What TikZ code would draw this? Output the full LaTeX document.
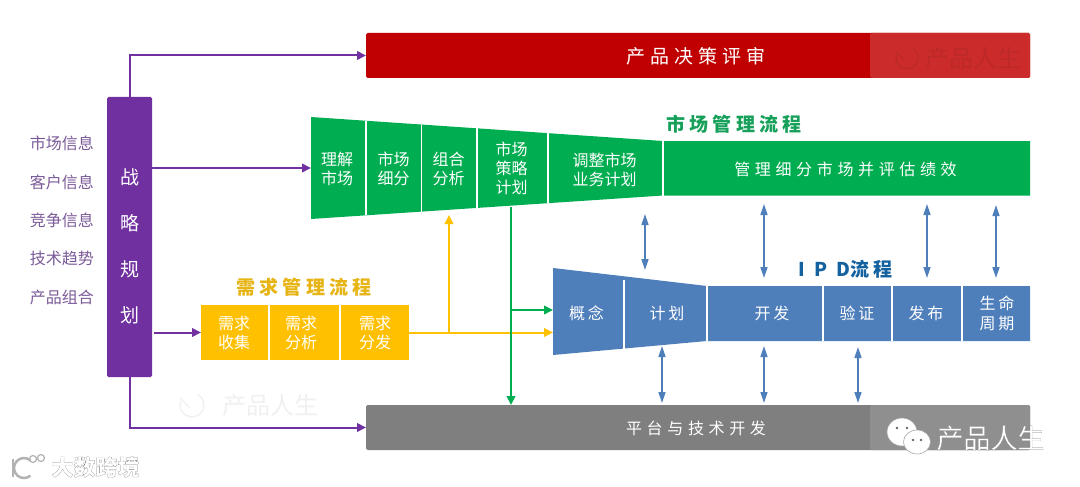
\documentclass[tikz,border=0pt]{standalone}
\usepackage{fontspec}
\setmainfont{Noto Sans CJK SC}
\newfontfamily\outl[FakeBold=0.6]{Noto Sans CJK SC}
\usetikzlibrary{arrows.meta}
\definecolor{cpurple}{HTML}{7030A0}
\definecolor{cgreen}{HTML}{00AD50}
\definecolor{cyellow}{HTML}{FFC000}
\definecolor{cblue}{HTML}{4F7FBB}
\definecolor{cred}{HTML}{C00000}
\definecolor{credl}{HTML}{CB2C2B}
\definecolor{cgray}{HTML}{7F7F7F}
\definecolor{cgrayl}{HTML}{8F8F8F}
\definecolor{cinfo}{HTML}{7A5A98}
\definecolor{ctitleb}{HTML}{14619F}
\definecolor{ctitley}{HTML}{E6B414}
\definecolor{ctitleg}{HTML}{16A05A}
\newcommand{\ls}[1]{\addfontfeatures{LetterSpace=#1}}
\newcommand{\outlined}[1]{\special{pdf:bcolor [1] [0.5]}#1\special{pdf:ecolor}}
\tikzset{
  bar/.style={inner sep=0pt,outer sep=0pt,rounded corners=1.5pt,anchor=north west},
  lab/.style={text=white,align=center,font=\fontsize{16}{19}\selectfont,inner sep=0pt},
  wlab/.style={text=white,align=center,font=\fontsize{16}{20}\selectfont\ls{16},inner sep=0pt},
  info/.style={text=cinfo,font=\fontsize{16}{18}\selectfont,inner sep=0pt},
  title/.style={font=\fontsize{19}{22}\bfseries\selectfont\ls{22},inner sep=0pt},
  sep/.style={draw=white,line width=1.2pt},
  conn/.style={line width=2pt,-{Triangle[length=9pt,width=8.5pt]}},
  pconn/.style={conn,draw=cpurple},
  yconn/.style={conn,draw=cyellow},
  gconn/.style={conn,draw=cgreen},
  bconn/.style={line width=1.5pt,draw=cblue,{Triangle[length=11pt,width=7pt]}-{Triangle[length=11pt,width=7pt]}},
  wm/.style={inner sep=0pt,font=\fontsize{24}{26}\selectfont},
}
\begin{document}
\begin{tikzpicture}[x=1pt,y=-1pt]
\useasboundingbox (0,0) rectangle (1080,487);
% bars
\node[bar,fill=cred,minimum width=664pt,minimum height=45pt] (red) at (366,33) {};
\fill[credl,rounded corners=1.5pt] (870,33) -- (1030,33) -- (1030,78) -- (870,78) -- cycle;
\node[bar,fill=cgray,minimum width=664pt,minimum height=45pt] (plat) at (366,405) {};
\fill[cgrayl,rounded corners=1.5pt] (870,405) -- (1030,405) -- (1030,450) -- (870,450) -- cycle;
\node[bar,fill=cpurple,minimum width=45pt,minimum height=280pt] (strat) at (107,97) {};
% green funnel
\fill[cgreen] (311,117) -- (663,141) -- (1030,141) -- (1030,195.5) -- (663,195.5) -- (311,219) -- cycle;
\foreach \x/\a/\b in {366/120.7/215.3,421.5/124.5/211.7,477/128.3/208,548/133.2/203,663/141/195.5}
  \draw[sep] (\x,\a) -- (\x,\b);
\coordinate (gin) at (311,168);
\coordinate (gplan) at (449,215);
\coordinate (gout) at (511,207);
% yellow
\fill[cyellow] (201,305) rectangle (409,360);
\foreach \x in {269,340} \draw[sep] (\x,305) -- (\x,360);
\coordinate (yin) at (201,332.5);
\coordinate (yout) at (409,332.5);
% blue funnel
\fill[cblue] (553,268) -- (707,286) -- (1030,286) -- (1030,341) -- (707,341) -- (553,355) -- cycle;
\foreach \x/\a/\b in {624/280/348.5,707/286/341,823/286/341,892/286/341,962/286/341}
  \draw[sep] (\x,\a) -- (\x,\b);
\coordinate (bgreen) at (553,310);
\coordinate (byellow) at (553,332.5);
% purple connectors
\draw[pconn] (strat.north) |- (red.west);
\draw[pconn] (strat.south) |- (plat.west);
\draw[pconn] (strat.east |- gin) -- (gin);
\draw[pconn] ([xshift=2pt]strat.east |- yin) -- (yin);
% yellow connectors
\coordinate (yjoin) at (449,332.5);
\draw[line width=2pt,draw=cyellow] (yout) -- (yjoin);
\draw[yconn] (yjoin) -- (gplan);
\draw[yconn] (yjoin) -- (byellow);
% green connectors
\coordinate (gjoin) at (511,310);
\draw[gconn] (gout) -- (gout |- plat.north);
\draw[gconn] (gjoin) -- (bgreen);
% blue connectors
\foreach \x/\a/\b [count=\i] in {645/214/270,764/204/278,927/204/278,996/205/278,662/346/403,764/346/403,858/347/403}{
  \coordinate (bt\i) at (\x,\a);
  \coordinate (bb\i) at (\x,\b);
  \draw[bconn] (bt\i) -- (bb\i);
}
% left labels
\node[info] (i1) at (62,143.5) {市场信息};
\node[info] (i2) at (62,182) {客户信息};
\node[info] (i3) at (62,220.5) {竞争信息};
\node[info] (i4) at (62,258.5) {技术趋势};
\node[info] (i5) at (62,297) {产品组合};
% strategy text
\foreach \t/\y [count=\i] in {战/177,略/223,规/269,划/315}
  \node[text=white,font=\fontsize{19}{22}\selectfont,inner sep=0pt] (s\i) at (129.5,\y) {\t};
% main bar text
\node[text=white,inner sep=0pt,font=\fontsize{19}{22}\selectfont\ls{26}] (redt) at (696,56) {产品决策评审};
\node[text=white,inner sep=0pt,font=\fontsize{16}{20}\selectfont\ls{29}] (platt) at (696,428) {平台与技术开发};
% green labels
\node[lab] (g1) at (337,169) {理解\\市场};
\node[lab] (g2) at (393.5,169) {市场\\细分};
\node[lab] (g3) at (448.5,169) {组合\\分析};
\node[lab] (g4) at (511.5,168.5) {市场\\策略\\计划};
\node[lab] (g5) at (604.5,169.5) {调整市场\\业务计划};
\node[wlab,font=\fontsize{16}{20}\selectfont\ls{29}] (g6) at (845.5,169) {管理细分市场并评估绩效};
% yellow labels
\node[lab] (y1) at (234,332.5) {需求\\收集};
\node[lab] (y2) at (301,332.5) {需求\\分析};
\node[lab] (y3) at (375,332.5) {需求\\分发};
% blue labels
\node[wlab] (b1) at (586.5,313) {概念};
\node[wlab] (b2) at (667,313) {计划};
\node[wlab] (b3) at (772,313) {开发};
\node[wlab] (b4) at (857,313) {验证};
\node[wlab] (b5) at (926,313) {发布};
\node[wlab] (b6) at (997,313) {生命\\周期};
% titles
\node[title,text=ctitleg] (t1) at (734,124.5) {市场管理流程};
\node[title,text=ctitley] (t2) at (304,287) {需求管理流程};
\node[title,text=ctitleb] (t3) at (845.5,269) {\ls{50}IPD\ls{22}流程};
% watermarks
\node[wm,text=credl!93!black] (w1) at (973,58) {产品人生};
\node[wm,text=black!6] (w2) at (270,405) {产品人生};
\draw[black!6,line width=1.4pt] (192,405) ++(-60:12) arc (-60:200:12);
\draw[black!6,line width=1.4pt] (180,398) -- (190,408);
\draw[credl!93!black,line width=1.4pt] (907,58) ++(-60:11) arc (-60:200:11);
\draw[credl!93!black,line width=1.4pt] (896,52) -- (905,60);
% wechat watermark
\filldraw[fill=white,draw=black!35,line width=.6pt] (902,432) ellipse (15pt and 14pt);
\filldraw[fill=white,draw=black!35,line width=.6pt] (917,442) ellipse (13.5pt and 12pt);
\fill[black!60] (897,428) circle (1.3pt) (907,428) circle (1.3pt) (913,440) circle (1.3pt) (921,440) circle (1.3pt);
\node[inner sep=0pt,text=white,font=\fontsize{27}{30}\outl\selectfont] (w3) at (990.5,438) {\outlined{产品人生}};
% 大数跨境 watermark
\draw[black!30,line width=2pt] (13,459) -- (13,477);
\draw[black!30,line width=2.5pt] (24,468) ++(-50:10) arc (-50:-310:10);
\draw[black!30,line width=1.2pt] (33,459) circle (3.5pt) (41,458) circle (3.5pt);
\node[inner sep=0pt,text=white,font=\fontsize{22}{24}\outl\bfseries\selectfont] (w4) at (95.5,467) {\outlined{大数跨境}};
\end{tikzpicture}
\end{document}
